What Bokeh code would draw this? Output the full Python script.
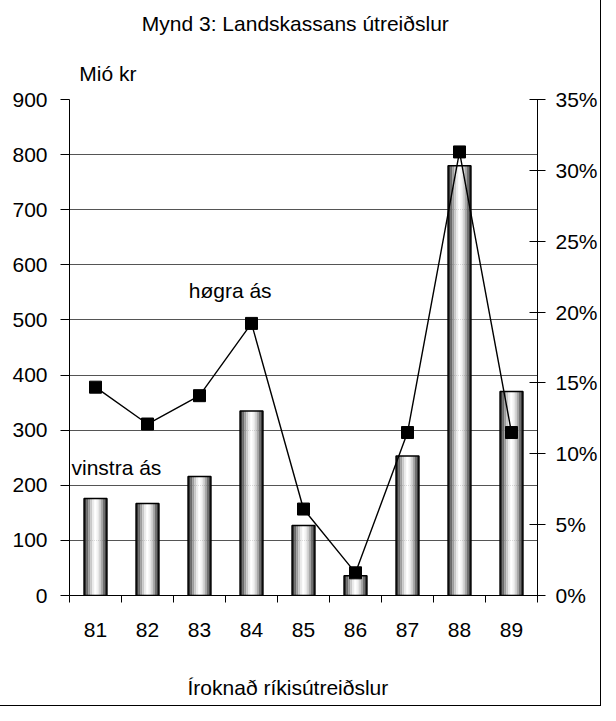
from bokeh.plotting import figure
from bokeh.layouts import column
from bokeh.models import (Range1d, LinearAxis, FixedTicker, PrintfTickFormatter,
                          ColumnDataSource, Label)
from bokeh.transform import dodge
from bokeh.embed import file_html
from bokeh.resources import INLINE

years = ["81", "82", "83", "84", "85", "86", "87", "88", "89"]
spending = [176, 167, 216, 335, 127, 36, 253, 780, 370]          # Mió kr (left axis)
share_pct = [14.7, 12.1, 14.1, 19.2, 6.1, 1.6, 11.5, 31.3, 11.5]  # % (right axis)
left_ticks = [0, 100, 200, 300, 400, 500, 600, 700, 800, 900]
right_ticks = [0, 5, 10, 15, 20, 25, 30, 35]

FONT = "Liberation Sans"
FS = "21px"
W = 600


def text_strip(h):
    f = figure(width=W, height=h, output_backend="svg", toolbar_location=None,
               x_range=Range1d(0, W), y_range=Range1d(0, h),
               min_border=0, x_axis_location=None, y_axis_location=None,
               title=None)
    f.outline_line_color = None
    f.grid.grid_line_color = None
    f.background_fill_color = "white"
    f.border_fill_color = "white"
    return f


def add_text(fig, x, y, t, align="left"):
    fig.add_layout(Label(x=x, y=y, text=t, text_align=align, text_baseline="middle",
                         text_font=FONT, text_font_size=FS, text_color="black"))


# ---- top strip: title and left-axis unit
TOP_H = 84
top = text_strip(TOP_H)
add_text(top, 289.5, TOP_H - 23, "Mynd 3: Landskassans útreiðslur", "center")
add_text(top, 12.5, TOP_H - 73, "Mió kr")

# ---- main chart
xs = list(range(1, len(years) + 1))
src = ColumnDataSource(dict(x=xs, spending=spending, share=share_pct))

p = figure(width=W, height=568, output_backend="svg", toolbar_location=None,
           x_range=Range1d(0.5, 9.5), y_range=Range1d(0, 900),
           min_border_left=69, min_border_right=60, min_border_top=15,
           min_border_bottom=57, title=None)
p.outline_line_color = None
p.background_fill_color = "white"
p.border_fill_color = "white"

p.xgrid.grid_line_color = None
p.ygrid.ticker = FixedTicker(ticks=left_ticks)
p.ygrid.grid_line_color = "#555555"
p.ygrid.grid_line_width = 1

# bars with a cylinder-like shading
bar_w = 0.44
shades = ["#383838", "#6a6a6a", "#9c9c9c", "#c8c8c8", "#ececec", "#ffffff",
          "#f2f2f2", "#d4d4d4", "#a8a8a8", "#707070", "#3c3c3c"]
n = len(shades)
sw = bar_w / n
for i, c in enumerate(shades):
    off = -bar_w / 2 + sw * (i + 0.5)
    p.vbar(x=dodge("x", off), width=sw * 1.05, top="spending", bottom=0,
           source=src, fill_color=c, line_color=None)
p.vbar(x="x", width=bar_w, top="spending", bottom=0, source=src,
       fill_color=None, line_color="black", line_width=1.5)

# line on right axis
p.extra_y_ranges = {"pct": Range1d(0, 35)}
p.line(x="x", y="share", source=src, y_range_name="pct", line_color="black",
       line_width=1.4)
p.scatter(x="x", y="share", source=src, y_range_name="pct", marker="square",
          size=12, fill_color="black", line_color="black")

# left axis
yax = p.yaxis[0]
yax.ticker = FixedTicker(ticks=left_ticks)
yax.major_tick_in = 0
yax.major_tick_out = 9
yax.minor_tick_line_color = None
yax.major_label_standoff = 13
yax.major_label_text_font = FONT
yax.major_label_text_font_size = FS
yax.major_label_text_color = "black"
yax.axis_line_color = "black"
yax.major_tick_line_color = "black"

rax = LinearAxis(y_range_name="pct", ticker=FixedTicker(ticks=right_ticks),
                 formatter=PrintfTickFormatter(format="%d%%"))
rax.major_tick_in = 8
rax.major_tick_out = 8
rax.minor_tick_line_color = None
rax.major_label_standoff = 10
rax.major_label_text_font = FONT
rax.major_label_text_font_size = FS
rax.major_label_text_color = "black"
rax.axis_line_color = "black"
p.add_layout(rax, "right")

# bottom axis: labels at category centres, ticks at category boundaries
xax = p.xaxis[0]
xax.ticker = FixedTicker(ticks=xs, minor_ticks=[v - 0.5 for v in xs] + [xs[-1] + 0.5])
xax.major_label_overrides = {x: y for x, y in zip(xs, years)}
xax.major_tick_line_color = None
xax.major_tick_in = 0
xax.major_tick_out = 0
xax.minor_tick_in = 0
xax.minor_tick_out = 7
xax.minor_tick_line_color = "black"
xax.major_label_standoff = 20
xax.major_label_text_font = FONT
xax.major_label_text_font_size = FS
xax.major_label_text_color = "black"
xax.axis_line_color = "black"

add_text(p, 0.538, 232, "vinstra ás")
add_text(p, 2.793, 553, "høgra ás")

# ---- bottom strip: x-axis title
bottom = text_strip(53)
add_text(bottom, 280, 18, "Íroknað ríkisútreiðslur", "center")

layout = column(top, p, bottom, spacing=0)
layout.styles = {"outline": "1px solid black", "outline-offset": "0px"}

open("out.html", "w").write(file_html(layout, INLINE))
